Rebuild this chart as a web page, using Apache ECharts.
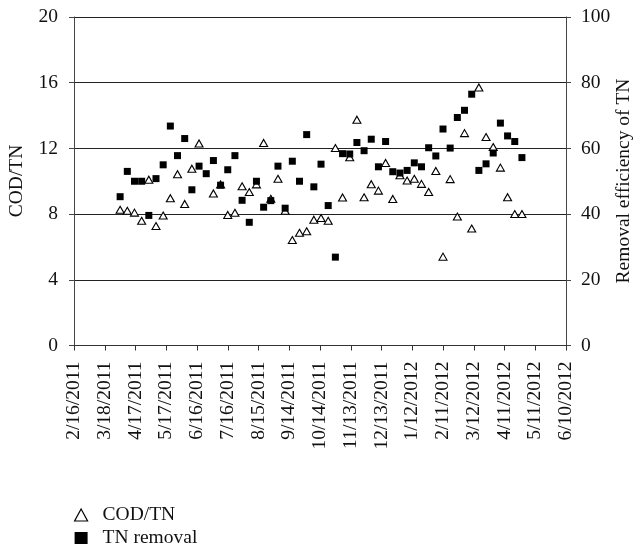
<!DOCTYPE html>
<html>
<head>
<meta charset="utf-8">
<script src="https://cdn.jsdelivr.net/npm/echarts@6/dist/echarts.min.js"></script>
<style>
html,body{margin:0;padding:0;background:#fff;}
#chart{width:635px;height:555px;}
</style>
</head>
<body>
<div id="chart"></div>
<script>
// Sampling dates (weekly)
var dates = [
 '2011-04-02','2011-04-09','2011-04-16','2011-04-23','2011-04-30',
 '2011-05-07','2011-05-14','2011-05-21','2011-05-28',
 '2011-06-04','2011-06-11','2011-06-18','2011-06-25',
 '2011-07-02','2011-07-09','2011-07-16','2011-07-23','2011-07-30',
 '2011-08-06','2011-08-13','2011-08-20','2011-08-27',
 '2011-09-03','2011-09-10','2011-09-17','2011-09-24',
 '2011-10-01','2011-10-08','2011-10-15','2011-10-22','2011-10-29',
 '2011-11-05','2011-11-12','2011-11-19','2011-11-26',
 '2011-12-03','2011-12-10','2011-12-17','2011-12-24','2011-12-31',
 '2012-01-07','2012-01-14','2012-01-21','2012-01-28',
 '2012-02-04','2012-02-11','2012-02-18','2012-02-25',
 '2012-03-03','2012-03-10','2012-03-17','2012-03-24','2012-03-31',
 '2012-04-07','2012-04-14','2012-04-21','2012-04-28'
];
// COD/TN ratio (left axis)
var codTN = [
 8.26, 8.20, 8.09, 7.59, 10.09,
 7.27, 7.91, 8.97, 10.43,
 8.62, 10.76, 12.30, null,
 9.26, 9.81, 7.95, 8.08, 9.69,
 9.34, 9.81, 12.33, 8.93,
 10.15, 8.20, 6.42, 6.86,
 6.95, 7.66, 7.76, 7.59, 12.02,
 9.01, 11.46, 13.75, 9.02,
 9.82, 9.43, 11.11, 8.92, 10.36,
 10.04, 10.15, 9.84, 9.35,
 10.63, 5.41, 10.13, 7.85,
 12.93, 7.12, 15.71, 12.69, 12.08,
 10.83, 9.03, 8.00, 8.00
];
// TN removal efficiency, % (right axis)
var tnRemoval = [
 45.3, 53.0, 50.0, 50.0, 39.6,
 50.8, 55.0, 66.8, 57.8,
 63.0, 47.4, 54.6, 52.3,
 56.3, 48.8, 53.5, 57.8, 44.2,
 37.5, 50.0, 42.1, 44.1,
 54.6, 41.8, 56.1, 50.0,
 64.2, 48.3, 55.2, 42.6, 26.9,
 58.4, 58.3, 61.8, 59.3,
 62.8, 54.4, 62.1, 52.9, 52.5,
 53.3, 55.6, 54.4, 60.2,
 57.7, 65.9, 60.1, 69.4,
 71.6, 76.5, 53.3, 55.3, 58.6,
 67.7, 63.8, 62.1, 57.2
];
// X tick labels (every 30 days from 2/16/2011)
var xTickLabels = ['2/16/2011','3/18/2011','4/17/2011','5/17/2011','6/16/2011','7/16/2011',
 '8/15/2011','9/14/2011','10/14/2011','11/13/2011','12/13/2011','1/12/2012','2/11/2012',
 '3/12/2012','4/11/2012','5/11/2012','6/10/2012'];
var leftTicks = [0, 4, 8, 12, 16, 20];
var rightTicks = [0, 20, 40, 60, 80, 100];

var originMs = Date.UTC(2011, 1, 16);
function dayOf(s){
  var p = s.split('-');
  return Math.round((Date.UTC(+p[0], +p[1]-1, +p[2]) - originMs) / 86400000);
}
var triData = [], sqData = [];
for (var i = 0; i < dates.length; i++) {
  if (codTN[i] != null) triData.push([dayOf(dates[i]), codTN[i]]);
  if (tnRemoval[i] != null) sqData.push([dayOf(dates[i]), tnRemoval[i]]);
}

var FONT = 'Liberation Serif';
var FS = 19.5;
var chart = echarts.init(document.getElementById('chart'), null, {renderer: 'canvas'});
chart.setOption({
  animation: false,
  backgroundColor: '#fff',
  grid: {left: 74, right: 69, top: 17, bottom: 209.5, containLabel: false, outerBoundsMode: 'none'},
  xAxis: {
    type: 'value', min: 0, max: 480, interval: 30,
    axisLine: {show: true, lineStyle: {color: '#333', width: 1}},
    axisTick: {show: true, length: 5, lineStyle: {color: '#333'}},
    splitLine: {show: false},
    axisLabel: {
      rotate: 90, margin: 16, color: '#111', fontFamily: FONT, fontSize: FS,
      formatter: function(v){ return xTickLabels[Math.round(v/30)]; }
    }
  },
  yAxis: [{
    type: 'value', min: 0, max: 20, interval: 4, position: 'left',
    axisLine: {show: true, lineStyle: {color: '#444', width: 1}},
    axisTick: {show: true, length: 5, lineStyle: {color: '#444'}},
    splitLine: {show: true, lineStyle: {color: '#222', width: 1}},
    axisLabel: {margin: 16, color: '#111', fontFamily: FONT, fontSize: FS,
      formatter: function(v){ return leftTicks.indexOf(v) >= 0 ? String(v) : ''; }}
  }, {
    type: 'value', min: 0, max: 100, interval: 20, position: 'right',
    axisLine: {show: true, lineStyle: {color: '#444', width: 1}},
    axisTick: {show: true, length: 5, lineStyle: {color: '#444'}},
    splitLine: {show: false},
    axisLabel: {margin: 15, color: '#111', fontFamily: FONT, fontSize: FS,
      formatter: function(v){ return rightTicks.indexOf(v) >= 0 ? String(v) : ''; }}
  }],
  graphic: [
    {type: 'text', x: 17, y: 181, rotation: Math.PI / 2,
     style: {text: 'COD/TN', font: FS + 'px "Liberation Serif"', fill: '#111',
             align: 'center', verticalAlign: 'middle'}},
    {type: 'text', x: 624, y: 181, rotation: Math.PI / 2,
     style: {text: 'Removal efficiency of TN', font: FS + 'px "Liberation Serif"', fill: '#111',
             align: 'center', verticalAlign: 'middle'}}
  ],
  legend: {
    orient: 'vertical', left: 74, top: 505, padding: 0, itemGap: 3, itemWidth: 13, itemHeight: 12,
    textStyle: {fontFamily: FONT, fontSize: FS, color: '#111', padding: [0, 0, 0, 10]},
    data: [
      {name: 'COD/TN', icon: 'triangle', itemStyle: {color: '#fff', borderColor: '#000', borderWidth: 1.2}},
      {name: 'TN removal', icon: 'rect', itemStyle: {color: '#000'}}
    ]
  },
  series: [{
    name: 'COD/TN', type: 'scatter', yAxisIndex: 0, data: triData,
    symbol: 'triangle', symbolSize: [8, 7],
    itemStyle: {color: '#fff', borderColor: '#000', borderWidth: 1.1, opacity: 1},
    z: 2
  }, {
    name: 'TN removal', type: 'scatter', yAxisIndex: 1, data: sqData,
    symbol: 'rect', symbolSize: 7,
    itemStyle: {color: '#000', opacity: 1},
    z: 3
  }]
});
</script>
</body>
</html>
